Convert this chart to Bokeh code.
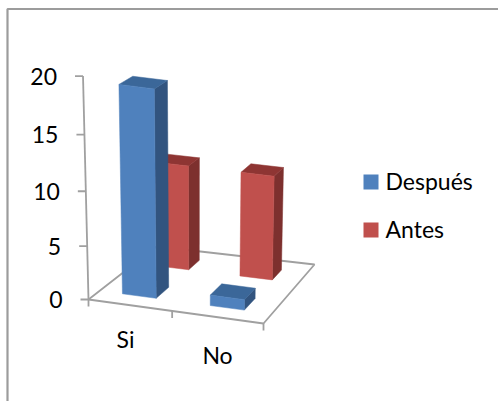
from bokeh.plotting import figure
from bokeh.models import Range1d
from bokeh.core.properties import value
from bokeh.embed import file_html
from bokeh.resources import INLINE

categories = ["Si", "No"]
despues = [19, 1]
antes = [10, 10]
y_ticks = [0, 5, 10, 15, 20]
series_names = ["Después", "Antes"]

FONT = value("Lato")
FS = "23px"
BLUE = ("#4F81BD", "#32547F", "#3B6799")
RED = ("#C0504D", "#7D302E", "#8E3533")
AXIS = "#A0A0A0"

FL, FR, BR, BL = (88, 299), (263, 323), (314, 264), (156, 246)


def floor(s, d):
    x = (1-s)*(1-d)*FL[0] + s*(1-d)*FR[0] + s*d*BR[0] + (1-s)*d*BL[0]
    y = (1-s)*(1-d)*FL[1] + s*(1-d)*FR[1] + s*d*BR[1] + (1-s)*d*BL[1]
    return x, y


def project(s, d, v):
    x, y = floor(s, d)
    h = (10.5 - 0.65*d) * v / (1 - 0.003*v)
    return x + (x - 195)*0.00023*h, y - h


p = figure(width=498, height=401, output_backend="svg", toolbar_location=None,
           x_range=Range1d(0, 498), y_range=Range1d(401, 0),
           min_border=0, min_border_left=0, min_border_right=0,
           min_border_top=0, min_border_bottom=0,
           outline_line_color=None, background_fill_color="white",
           border_fill_color="white")
p.axis.visible = False
p.grid.visible = False

p.line([498, 7, 7], [8.5, 8.5, 401], line_color="#9C9C9C", line_width=2.2)

p.patch([FL[0], FR[0], BR[0], BL[0], FL[0]], [FL[1], FR[1], BR[1], BL[1], FL[1]],
        fill_alpha=0, line_color=AXIS, line_width=1.8)

p.line([project(0, 0, 0)[0], project(0, 0, 20)[0]],
       [project(0, 0, 0)[1], project(0, 0, 20)[1]], line_color=AXIS, line_width=1.8)
for t in y_ticks:
    x, y = project(0, 0, t)
    p.line([x - 8, x], [y, y], line_color=AXIS, line_width=1.8)
p.text([project(0, 0, t)[0] - 26 for t in y_ticks], [project(0, 0, t)[1] for t in y_ticks],
       text=[str(t) for t in y_ticks], text_font=FONT, text_font_size=FS,
       text_align="right", text_baseline="middle", text_color="black")

for s in (0, 0.478, 1):
    x, y = floor(s, 0)
    p.line([x, x], [y, y + 7], line_color=AXIS, line_width=1.8)
p.text([125, 217], [338, 354], text=categories, text_font=FONT, text_font_size=FS,
       text_align="center", text_baseline="middle", text_color="black")


def bar(s0, s1, d0, d1, v, cols):
    side = [project(s1, d0, 0), project(s1, d1, 0), project(s1, d1, v), project(s1, d0, v)]
    top = [project(s0, d0, v), project(s1, d0, v), project(s1, d1, v), project(s0, d1, v)]
    front = [project(s0, d0, 0), project(s1, d0, 0), project(s1, d0, v), project(s0, d0, v)]
    for poly, c in ((side, cols[1]), (top, cols[2]), (front, cols[0])):
        p.patch([a for a, _ in poly], [b for _, b in poly], fill_color=c, line_color=c, line_width=0.5)


S_SPANS = [(0.132, 0.328), (0.642, 0.84)]
for (s0, s1), v in zip(S_SPANS, antes):
    bar(s0, s1, 0.685, 0.855, v, RED)
for (s0, s1), v in zip(S_SPANS, despues):
    bar(s0, s1, 0.165, 0.365, v, BLUE)

p.quad(left=[363, 363], right=[378, 378], top=[174, 222], bottom=[189, 237],
       fill_color=[BLUE[0], RED[0]], line_color=None)
p.text([385, 385], [180, 228], text=series_names, text_font=FONT, text_font_size=FS,
       text_align="left", text_baseline="middle", text_color="black")

open("out.html", "w").write(file_html(p, INLINE))
